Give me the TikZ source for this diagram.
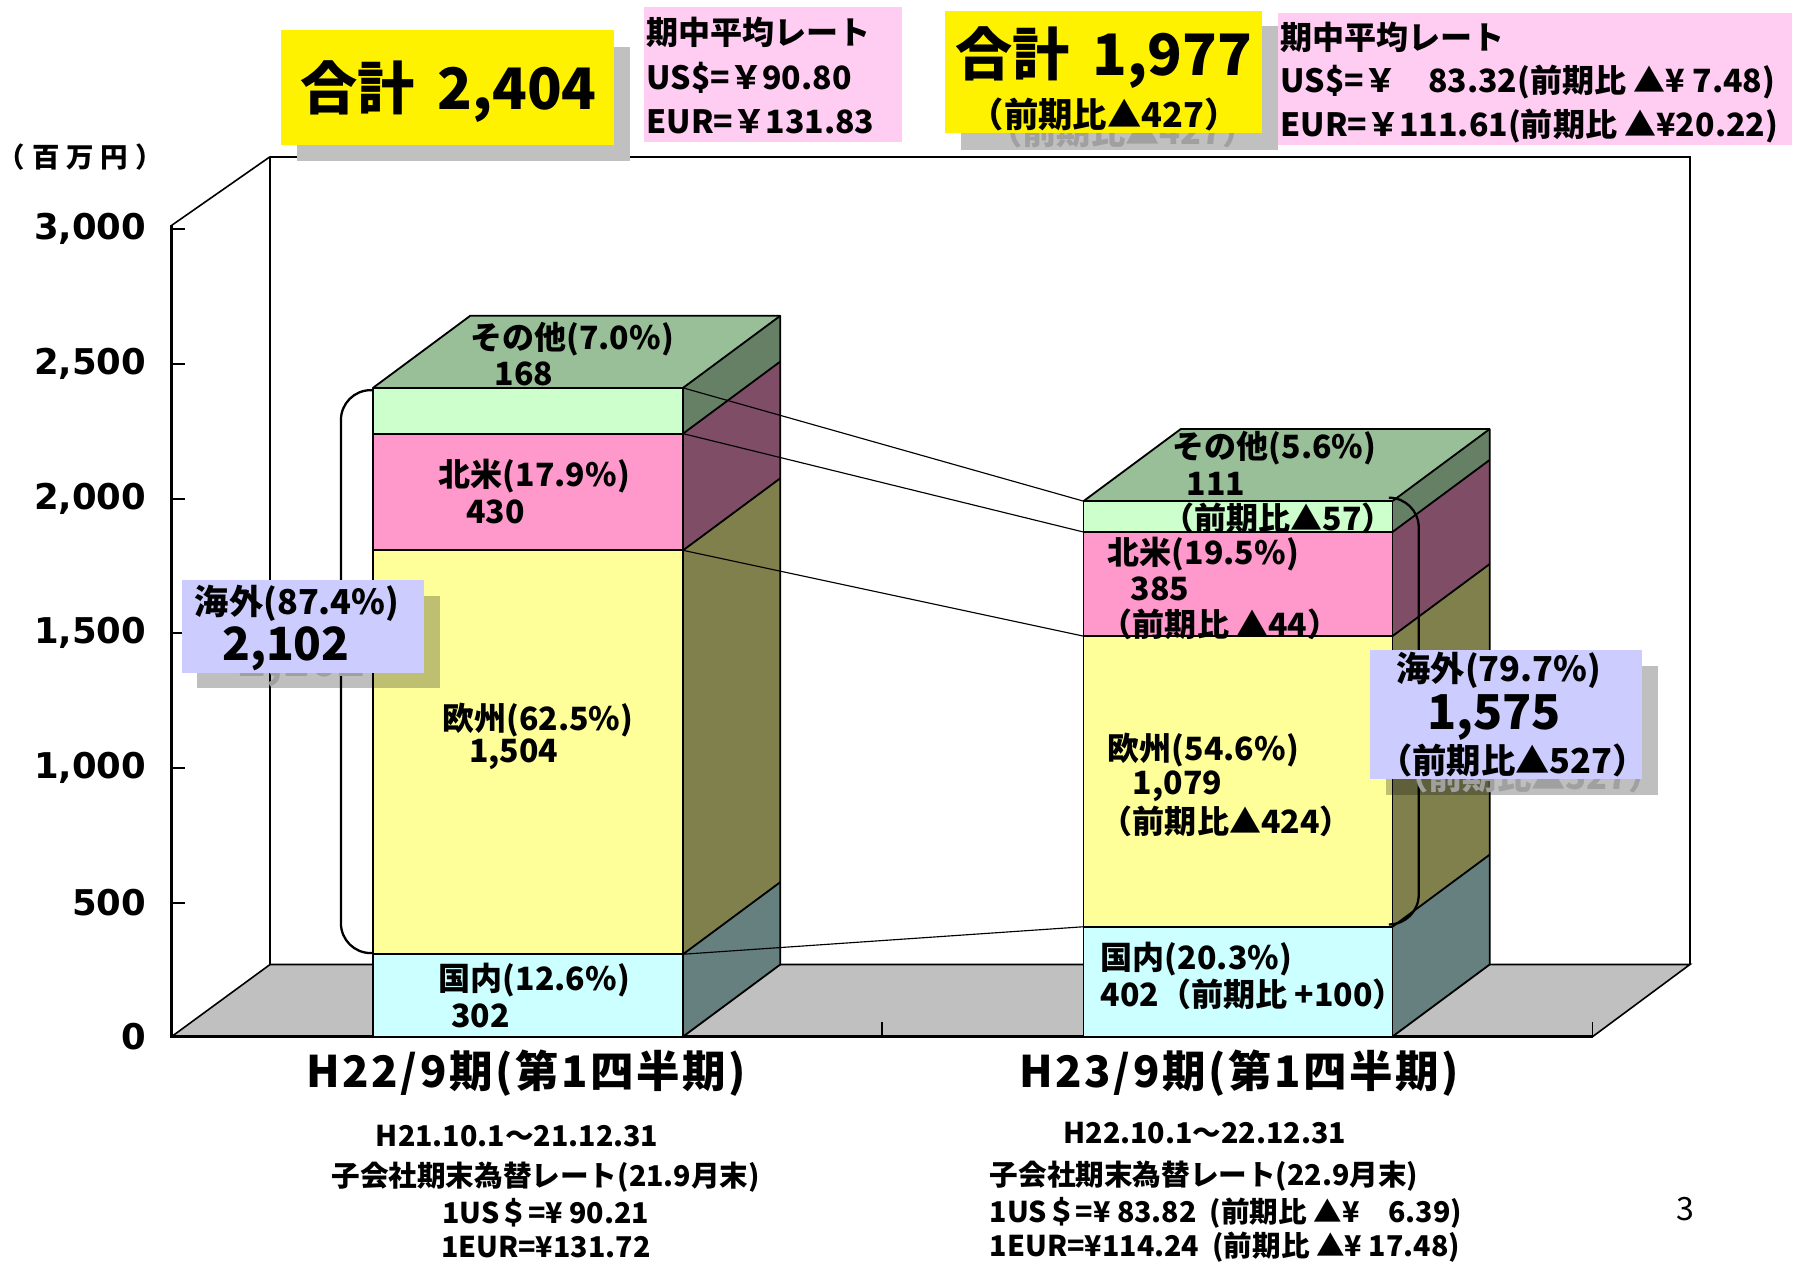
\documentclass[tikz,border=0pt]{standalone}
\usepackage{fontspec}
\setmainfont{Noto Sans CJK JP}
\newfontfamily\axfont{DejaVu Sans}
\newcommand\fsz[1]{\fontsize{#1}{#1}\selectfont}
\definecolor{kokF}{HTML}{CCFFFF}
\definecolor{kokS}{HTML}{668080}
\definecolor{ouF}{HTML}{FFFF99}
\definecolor{ouS}{HTML}{80804D}
\definecolor{hoF}{HTML}{FF99CC}
\definecolor{hoS}{HTML}{804D66}
\definecolor{soF}{HTML}{CCFFCC}
\definecolor{soS}{HTML}{668066}
\definecolor{soT}{HTML}{99BF99}
\definecolor{floorC}{HTML}{C0C0C0}
\definecolor{pinkC}{HTML}{FFCCF2}
\definecolor{lavC}{HTML}{CCCCFF}
\definecolor{ghostC}{HTML}{A0A0A0}
\begin{document}
\begin{tikzpicture}[x=1pt,y=-1pt,
  lbl/.style={inner sep=0pt,font=\bfseries\fsz{28}},
  lblw/.style={lbl,anchor=west},
  axl/.style={inner sep=0pt,anchor=east,font=\axfont\bfseries\fsz{31}},
  small/.style={inner sep=0pt,font=\bfseries\fsz{25}},
  smallw/.style={small,anchor=west},
  cat/.style={inner sep=0pt,font=\bfseries\fsz{38}\addfontfeature{LetterSpace=6}},
  edge/.style={line width=1.6pt,line join=round},
  conn/.style={line width=1pt},
  brk/.style={line width=2pt,rounded corners=26pt},
  shadowbox/.style={fill=black,fill opacity=0.25,draw=none},
  ghost/.style={text=ghostC}]
\useasboundingbox (0,0) rectangle (1568,1103);

% ---------- walls and floor ----------
\fill[floorC] (150,906) -- (236,843) -- (1477,843) -- (1392,906) -- cycle;
\draw[line width=1.4pt] (236,137) -- (1477,137) -- (1477,843);
\draw[line width=1.4pt] (236,137) -- (236,843);
\draw[line width=1.4pt] (150,197) -- (236,137);
\draw[line width=1.4pt] (236,843) -- (1477,843) -- (1392,906);
\draw[line width=1.4pt] (150,906) -- (236,843);
\draw[line width=2.2pt] (150,197) -- (150,906) -- (1392,906);
\foreach \yy in {200,318,436,553,671,789}
  \draw[line width=1.4pt] (150,\yy) -- (162,\yy);
\draw[line width=1.4pt] (771,906) -- (771,893);
\draw[line width=1.4pt] (1392,906) -- (1392,893);

% ---------- axis labels ----------
\node[axl] (y3000) at (128,200) {3,000};
\node[axl] (y2500) at (128,318) {2,500};
\node[axl] (y2000) at (128,436) {2,000};
\node[axl] (y1500) at (128,553) {1,500};
\node[axl] (y1000) at (128,671) {1,000};
\node[axl] (y500) at (128,789) {500};
\node[axl] (y0) at (128,906) {0};
\node[inner sep=0pt,font=\bfseries\fsz{24}\addfontfeature{LetterSpace=25}] (unit) at (70,137) {（百万円）};

% ---------- bar 1 ----------
\fill[kokF] (326,834) rectangle (597,906);
\fill[ouF] (326,481) rectangle (597,834);
\fill[hoF] (326,379) rectangle (597,481);
\fill[soF] (326,339) rectangle (597,379);
\fill[kokS] (597,906) -- (682,843) -- (682,771) -- (597,834) -- cycle;
\fill[ouS] (597,834) -- (682,771) -- (682,418) -- (597,481) -- cycle;
\fill[hoS] (597,481) -- (682,418) -- (682,316) -- (597,379) -- cycle;
\fill[soS] (597,379) -- (682,316) -- (682,276) -- (597,339) -- cycle;
\fill[soT] (326,339) -- (411,276) -- (682,276) -- (597,339) -- cycle;
\draw[edge] (326,339) rectangle (597,906);
\draw[edge] (326,834) -- (597,834) (326,481) -- (597,481) (326,379) -- (597,379);
\draw[edge] (326,339) -- (411,276) -- (682,276) -- (682,843) -- (597,906);
\draw[edge] (597,339) -- (682,276) (597,379) -- (682,316) (597,481) -- (682,418) (597,834) -- (682,771);

% ---------- bar 2 ----------
\fill[kokF] (947,810) rectangle (1217,906);
\fill[ouF] (947,556) rectangle (1217,810);
\fill[hoF] (947,465) rectangle (1217,556);
\fill[soF] (947,438) rectangle (1217,465);
\fill[kokS] (1217,906) -- (1302,843) -- (1302,747) -- (1217,810) -- cycle;
\fill[ouS] (1217,810) -- (1302,747) -- (1302,493) -- (1217,556) -- cycle;
\fill[hoS] (1217,556) -- (1302,493) -- (1302,402) -- (1217,465) -- cycle;
\fill[soS] (1217,465) -- (1302,402) -- (1302,375) -- (1217,438) -- cycle;
\fill[soT] (947,438) -- (1032,375) -- (1302,375) -- (1217,438) -- cycle;
\draw[edge] (947,438) rectangle (1217,906);
\draw[edge] (947,810) -- (1217,810) (947,556) -- (1217,556) (947,465) -- (1217,465);
\draw[edge] (947,438) -- (1032,375) -- (1302,375) -- (1302,843) -- (1217,906);
\draw[edge] (1217,438) -- (1302,375) (1217,465) -- (1302,402) (1217,556) -- (1302,493) (1217,810) -- (1302,747);

% ---------- connectors between bars ----------
\coordinate (a1) at (597,339); \coordinate (b1) at (947,438);
\coordinate (a2) at (597,379); \coordinate (b2) at (947,465);
\coordinate (a3) at (597,481); \coordinate (b3) at (947,556);
\coordinate (a4) at (597,834); \coordinate (b4) at (947,810);
\draw[conn] (a1) -- (b1);
\draw[conn] (a2) -- (b2);
\draw[conn] (a3) -- (b3);
\draw[conn] (a4) -- (b4);

% ---------- brackets ----------
\draw[brk] (326,341) -- (298,341) -- (298,833) -- (326,833);
\draw[brk] (1217,435) -- (1240,435) -- (1240,808) -- (1217,808);

% ---------- bar labels ----------
\node[lbl] (s1) at (500,296) {その他(7.0\%)};
\node[lbl] (s1v) at (458,327) {168};
\node[lbl] (h1) at (467,416) {北米(17.9\%)};
\node[lbl] (h1v) at (433,447) {430};
\node[lbl] (o1) at (470,629) {欧州(62.5\%)};
\node[lbl] (o1v) at (449,659) {1,504};
\node[lbl] (k1) at (467,857) {国内(12.6\%)};
\node[lbl] (k1v) at (420,888) {302};

\node[lbl] (s2) at (1114,392) {その他(5.6\%)};
\node[lbl] (s2v) at (1063,423) {111};
\node[lbl] (s2d) at (1117,453) {（前期比▲57）};
\node[lblw] (h2) at (968,484) {北米(19.5\%)};
\node[lblw] (h2v) at (988,515) {385};
\node[lblw] (h2d) at (962,546) {（前期比 ▲44）};
\node[lblw] (o2) at (968,656) {欧州(54.6\%)};
\node[lblw] (o2v) at (990,687) {1,079};
\node[lblw] (o2d) at (962,718) {（前期比▲424）};
\node[lblw] (k2) at (962,838) {国内(20.3\%)};
\node[lblw] (k2v) at (962,869) {402（前期比 +100）};

% ---------- overseas boxes ----------
\fill[shadowbox] (172,521) rectangle (385,601);
\node[inner sep=0pt,anchor=west,font=\bfseries\fsz{40},ghost] (g1) at (208,581) {2,102};
\fill[lavC] (159,507) rectangle (371,588);
\node[inner sep=0pt,anchor=west,font=\bfseries\fsz{30}] (ov1) at (170,527) {海外(87.4\%)};
\node[inner sep=0pt,anchor=west,font=\bfseries\fsz{40}] (ov1v) at (194,567) {2,102};

\fill[shadowbox] (1211,582) rectangle (1449,695);
\node[inner sep=0pt,font=\bfseries\fsz{30},ghost] (g2) at (1336,679) {（前期比▲527）};
\fill[lavC] (1197,568) rectangle (1435,681);
\node[inner sep=0pt,font=\bfseries\fsz{30}] (ov2) at (1310,586) {海外(79.7\%)};
\node[inner sep=0pt,font=\bfseries\fsz{42}] (ov2v) at (1306,627) {1,575};
\node[inner sep=0pt,font=\bfseries\fsz{30}] (ov2d) at (1322,665) {（前期比▲527）};

% ---------- top boxes ----------
\fill[floorC] (260,41) rectangle (551,141);
\fill[yellow] (246,26) rectangle (537,127);
\node[inner sep=0pt,font=\bfseries\fsz{50}] (tot1) at (392,80) {合計\hspace{0.4em}2,404};

\fill[pinkC] (563,6) rectangle (788,124);
\node[lblw] (r1a) at (565,28) {期中平均レート};
\node[lblw] (r1b) at (565,68) {US\$=￥90.80};
\node[lblw] (r1c) at (565,106) {EUR=￥131.83};

\fill[floorC] (840,23) rectangle (1117,131);
\node[inner sep=0pt,font=\bfseries\fsz{30},ghost] (g3) at (981,115) {（前期比▲427）};
\fill[yellow] (826,10) rectangle (1103,116);
\node[inner sep=0pt,font=\bfseries\fsz{50}] (tot2) at (965,50) {合計\hspace{0.4em}1,977};
\node[inner sep=0pt,font=\bfseries\fsz{30}] (tot2d) at (965,100) {（前期比▲427）};

\fill[pinkC] (1117,11) rectangle (1566,127);
\node[lblw] (r2a) at (1119,33) {期中平均レート};
\node[lblw] (r2b) at (1119,72) {US\$=￥　83.32(前期比 ▲¥ 7.48)};
\node[lblw] (r2c) at (1119,110) {EUR=￥111.61(前期比 ▲¥20.22)};

% ---------- category labels ----------
\node[cat] (c1) at (460,938) {H22/9期(第1四半期)};
\node[cat] (c2) at (1083,938) {H23/9期(第1四半期)};
\node[small] (d1a) at (452,993) {H21.10.1～21.12.31};
\node[small] (d1b) at (477,1029) {子会社期末為替レート(21.9月末)};
\node[small] (d1c) at (477,1060) {1US＄=¥ 90.21};
\node[small] (d1d) at (477,1090) {1EUR=¥131.72};
\node[small] (d2a) at (1053,990) {H22.10.1～22.12.31};
\node[smallw] (d2b) at (865,1028) {子会社期末為替レート(22.9月末)};
\node[smallw] (d2c) at (865,1060) {1US＄=¥ 83.82 \ (前期比 ▲¥　6.39)};
\node[smallw] (d2d) at (865,1090) {1EUR=¥114.24 \ (前期比 ▲¥ 17.48)};
\node[inner sep=0pt,font=\fsz{28}] (pg) at (1473,1057) {3};
\end{tikzpicture}
\end{document}
